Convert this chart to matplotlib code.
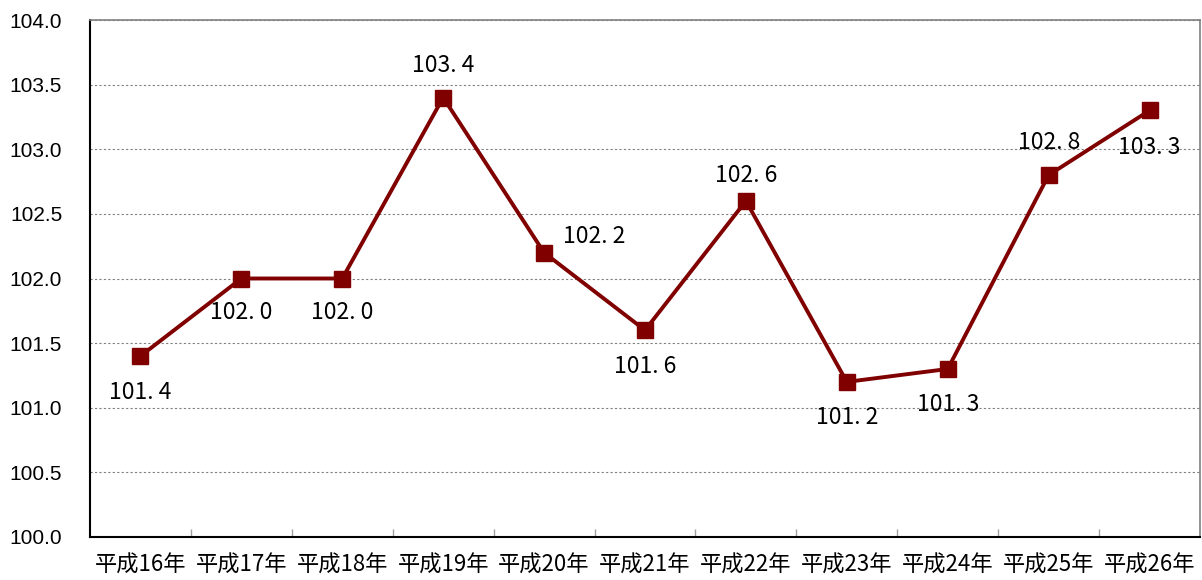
import matplotlib
matplotlib.use("Agg")
import matplotlib.pyplot as plt
from matplotlib.ticker import MultipleLocator, FixedLocator

plt.rcParams['font.family'] = ['Noto Sans CJK JP', 'DejaVu Sans']

categories = ["平成16年", "平成17年", "平成18年", "平成19年", "平成20年", "平成21年",
              "平成22年", "平成23年", "平成24年", "平成25年", "平成26年"]
values = [101.4, 102.0, 102.0, 103.4, 102.2, 101.6, 102.6, 101.2, 101.3, 102.8, 103.3]
# label offsets in pixels (dx, dy) relative to each point
label_offsets = [(0, -36), (0, -34), (0, -34), (0, 32), (50, 16), (0, -36),
                 (0, 25), (0, -36), (0, -36), (0, 33), (0, -37)]

fig = plt.figure(figsize=(12.02, 5.8), dpi=100)
ax = fig.add_axes([90/1202, 43/580, 1110/1202, 517/580])

x = list(range(len(categories)))
ax.plot(x, values, color="#800000", linewidth=2.8, marker="s", markersize=11,
        markerfacecolor="#800000", markeredgecolor="#800000", zorder=3)

for xi, v, (dx, dy) in zip(x, values, label_offsets):
    ax.annotate(f"{v:.1f}".replace(".", ". "), (xi, v), xytext=(dx*0.72, dy*0.72),
                textcoords="offset points", ha="center", va="center",
                fontsize=16.5, color="black", zorder=4)

ax.set_xlim(-0.5, len(categories) - 0.5)
ax.set_ylim(100, 104)
ax.yaxis.set_major_locator(MultipleLocator(0.5))
ax.set_yticklabels([f"{t:.1f}" for t in ax.get_yticks()], family="Liberation Sans", fontsize=15)
ax.yaxis.grid(True, color="#808080", linestyle=(0, (2, 2)), linewidth=0.8)
ax.tick_params(axis="y", length=0, pad=20)

ax.xaxis.set_major_locator(FixedLocator(x))
ax.set_xticklabels(categories, fontsize=16)
ax.tick_params(axis="x", which="major", length=0, pad=12)
ax.xaxis.set_minor_locator(FixedLocator([i + 0.5 for i in x[:-1]]))
ax.tick_params(axis="x", which="minor", direction="in", length=6, color="#a0a0a0", width=1)

for side in ["left", "bottom"]:
    ax.spines[side].set_color("black")
    ax.spines[side].set_linewidth(1.5)
for side in ["top", "right"]:
    ax.spines[side].set_color("#808080")
    ax.spines[side].set_linewidth(1.2)

fig.savefig("out.png", dpi=100)
